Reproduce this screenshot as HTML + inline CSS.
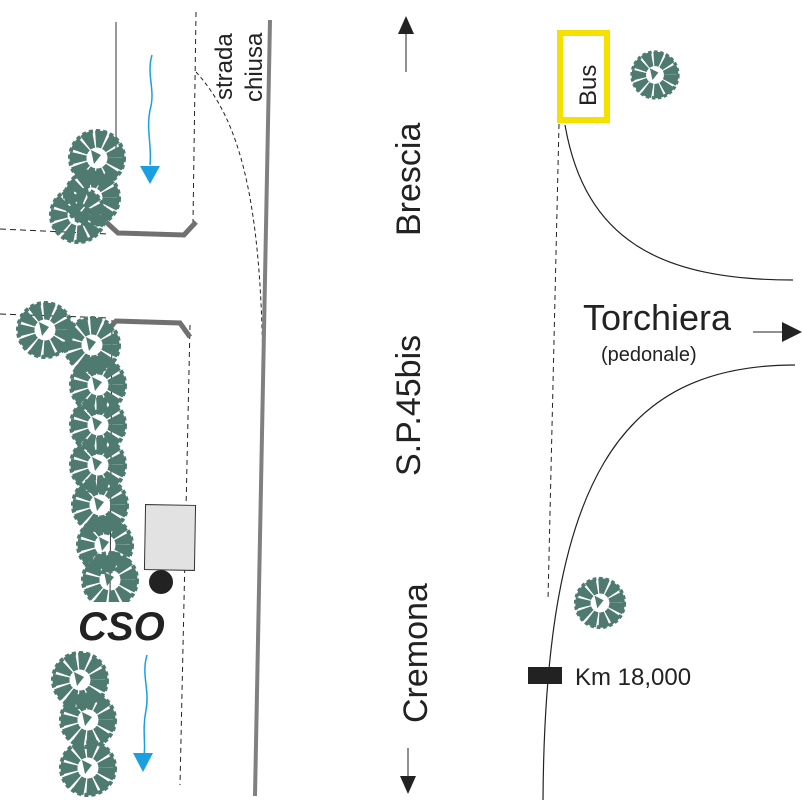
<!DOCTYPE html>
<html><head><meta charset="utf-8"><style>
html,body{margin:0;padding:0;background:#fff;}
svg{display:block;}
text{font-family:"Liberation Sans",sans-serif;fill:#222;}
</style></head><body>
<svg width="802" height="812" viewBox="0 0 802 812" xmlns="http://www.w3.org/2000/svg">
<defs>
<g id="tree">
<circle r="19" fill="none" stroke="#4e7a70" stroke-width="17" stroke-dasharray="9 2"/>
<circle r="27" fill="none" stroke="#4e7a70" stroke-width="4" stroke-dasharray="4 3"/>
<path d="M-6 -8 L4 -3 L-3 6 Z" fill="#4e7a70"/>
</g>
</defs>
<!-- left area lines -->
<line x1="116" y1="22" x2="116" y2="150" stroke="#333" stroke-width="1"/>
<line x1="112" y1="320" x2="110" y2="600" stroke="#333" stroke-width="1"/>
<path d="M196 12 L193 222" stroke="#222" stroke-width="1" stroke-dasharray="5 4" fill="none"/>
<path d="M190 325 L180 785" stroke="#222" stroke-width="1" stroke-dasharray="5 4" fill="none"/>
<path d="M196 72 C240 120 262 200 263 380" stroke="#222" stroke-width="1" stroke-dasharray="4 3" fill="none"/>
<line x1="270" y1="20" x2="255" y2="796" stroke="#808080" stroke-width="4"/>
<line x1="0" y1="229" x2="108" y2="234" stroke="#222" stroke-width="1" stroke-dasharray="6 4"/>
<line x1="0" y1="314" x2="110" y2="318" stroke="#222" stroke-width="1" stroke-dasharray="6 4"/>
<!-- barriers -->
<polyline points="106,222 118,233 184,235 196,222" fill="none" stroke="#707070" stroke-width="5"/>
<polyline points="106,332 116,321 180,323 190,337" fill="none" stroke="#707070" stroke-width="5"/>
<!-- blue arrows -->
<path d="M152 55 C146 75 156 90 150 110 C146 130 152 145 150 165" stroke="#1aa0e0" stroke-width="1.5" fill="none"/>
<polygon points="140,166 160,166 150,184" fill="#1aa0e0"/>
<path d="M147 655 C141 675 150 690 146 710 C142 730 146 745 144 755" stroke="#1aa0e0" stroke-width="1.5" fill="none"/>
<polygon points="133,753 153,753 143,772" fill="#1aa0e0"/>
<!-- trees left -->
<use href="#tree" x="97" y="158"/>
<use href="#tree" x="92" y="198"/>
<use href="#tree" x="78" y="215"/>
<use href="#tree" x="45" y="330"/>
<use href="#tree" x="92" y="345"/>
<use href="#tree" x="98" y="385"/>
<use href="#tree" x="98" y="425"/>
<use href="#tree" x="98" y="465"/>
<use href="#tree" x="100" y="505"/>
<use href="#tree" x="105" y="545"/>
<use href="#tree" x="110" y="580"/>
<use href="#tree" x="80" y="680"/>
<use href="#tree" x="88" y="720"/>
<use href="#tree" x="88" y="768"/>
<rect x="75" y="602" width="100" height="48" fill="#fff"/>
<!-- box and dot -->
<rect x="145" y="505" width="50" height="65" fill="#e2e2e2" stroke="#333" stroke-width="1" transform="rotate(1 170 537)"/>
<circle cx="161" cy="582" r="12" fill="#222"/>
<text x="78" y="640" font-size="40" font-weight="bold" font-style="italic">CSO</text>
<!-- strada chiusa -->
<text transform="translate(232,100) rotate(-90)" font-size="24">strada</text>
<text transform="translate(262,102) rotate(-90)" font-size="24">chiusa</text>
<!-- road labels -->
<line x1="406" y1="30" x2="406" y2="72" stroke="#222" stroke-width="1"/>
<polygon points="398,34 414,34 406,16" fill="#222"/>
<text transform="translate(420,236) rotate(-90)" font-size="34">Brescia</text>
<text transform="translate(420,476) rotate(-90)" font-size="34">S.P.45bis</text>
<text transform="translate(427,723) rotate(-90)" font-size="34">Cremona</text>
<line x1="408" y1="748" x2="408" y2="780" stroke="#222" stroke-width="1"/>
<polygon points="400,776 416,776 408,794" fill="#222"/>
<!-- right side -->
<rect x="560" y="33" width="47" height="87" fill="none" stroke="#f5e000" stroke-width="6"/>
<text transform="translate(596,106) rotate(-90)" font-size="24">Bus</text>
<use href="#tree" x="655" y="75" transform="translate(655 75) scale(0.85) translate(-655 -75)"/>
<path d="M565 125 C585 240 660 280 793 280" stroke="#222" stroke-width="1.2" fill="none"/>
<path d="M559 124 L548 600" stroke="#222" stroke-width="1" stroke-dasharray="5 4" fill="none"/>
<text x="583" y="330" font-size="36">Torchiera</text>
<text x="601" y="361" font-size="20">(pedonale)</text>
<line x1="753" y1="332" x2="785" y2="332" stroke="#222" stroke-width="1"/>
<polygon points="782,322 782,342 802,332" fill="#222"/>
<path d="M795 365 C620 365 545 480 543 800" stroke="#222" stroke-width="1.2" fill="none"/>
<use href="#tree" x="600" y="603" transform="translate(600 603) scale(0.9) translate(-600 -603)"/>
<rect x="528" y="667" width="34" height="17" fill="#222"/>
<text x="575" y="685" font-size="24">Km 18,000</text>
</svg>
</body></html>
